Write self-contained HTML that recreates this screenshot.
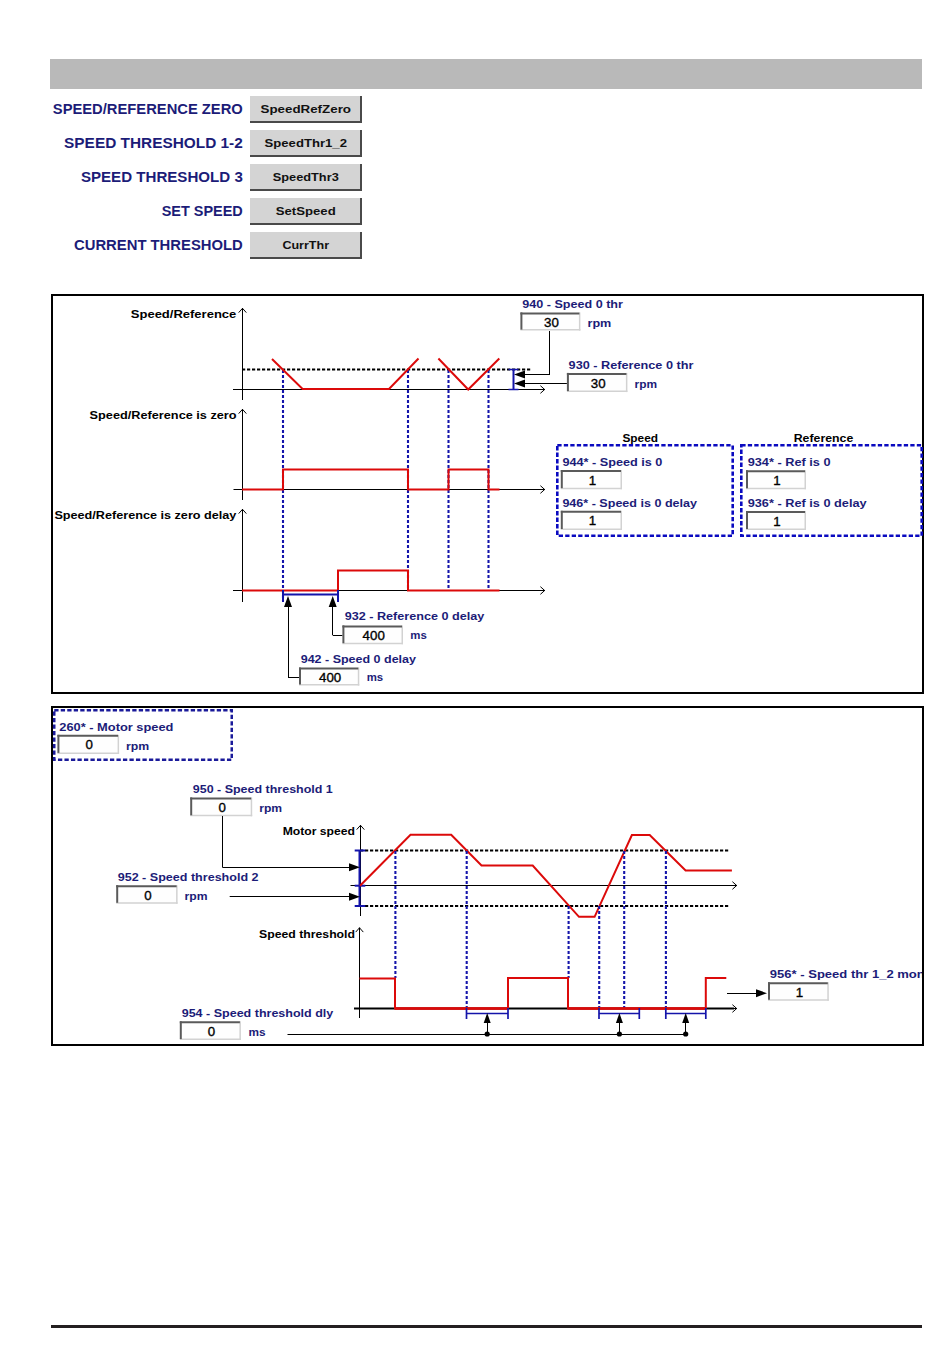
<!DOCTYPE html>
<html><head><meta charset="utf-8">
<style>
html,body{margin:0;padding:0;background:#fff;}
body{width:950px;height:1360px;position:relative;overflow:hidden;font-family:"Liberation Sans",sans-serif;}
.bar{position:absolute;left:50px;top:59px;width:872px;height:30px;background:#b9b9b9;}
.foot{position:absolute;left:51px;top:1325px;width:871px;height:3px;background:#231f20;}
svg{position:absolute;left:0;top:0;}
</style></head><body>
<div class="bar"></div>
<div class="foot"></div>
<svg width="950" height="1360" viewBox="0 0 950 1360">
<text x="242.8" y="113.8" font-family="Liberation Sans" font-size="14" font-weight="bold" fill="#1c1c78" text-anchor="end" textLength="190" lengthAdjust="spacingAndGlyphs">SPEED/REFERENCE ZERO</text>
<rect x="250" y="96" width="112" height="27" fill="#d4d4d4"/>
<line x1="250" y1="122" x2="362" y2="122" stroke="#4a4a4a" stroke-width="2"/>
<line x1="361" y1="96" x2="361" y2="123" stroke="#4a4a4a" stroke-width="2"/>
<text x="305.75" y="112.6" font-family="Liberation Sans" font-size="11" font-weight="bold" fill="#111" text-anchor="middle" textLength="90.5" lengthAdjust="spacingAndGlyphs">SpeedRefZero</text>
<text x="242.8" y="147.8" font-family="Liberation Sans" font-size="14" font-weight="bold" fill="#1c1c78" text-anchor="end" textLength="178.7" lengthAdjust="spacingAndGlyphs">SPEED THRESHOLD 1-2</text>
<rect x="250" y="130" width="112" height="27" fill="#d4d4d4"/>
<line x1="250" y1="156" x2="362" y2="156" stroke="#4a4a4a" stroke-width="2"/>
<line x1="361" y1="130" x2="361" y2="157" stroke="#4a4a4a" stroke-width="2"/>
<text x="305.75" y="146.6" font-family="Liberation Sans" font-size="11" font-weight="bold" fill="#111" text-anchor="middle" textLength="82.4" lengthAdjust="spacingAndGlyphs">SpeedThr1_2</text>
<text x="242.8" y="181.8" font-family="Liberation Sans" font-size="14" font-weight="bold" fill="#1c1c78" text-anchor="end" textLength="161.9" lengthAdjust="spacingAndGlyphs">SPEED THRESHOLD 3</text>
<rect x="250" y="164" width="112" height="27" fill="#d4d4d4"/>
<line x1="250" y1="190" x2="362" y2="190" stroke="#4a4a4a" stroke-width="2"/>
<line x1="361" y1="164" x2="361" y2="191" stroke="#4a4a4a" stroke-width="2"/>
<text x="305.75" y="180.6" font-family="Liberation Sans" font-size="11" font-weight="bold" fill="#111" text-anchor="middle" textLength="66" lengthAdjust="spacingAndGlyphs">SpeedThr3</text>
<text x="242.8" y="215.8" font-family="Liberation Sans" font-size="14" font-weight="bold" fill="#1c1c78" text-anchor="end" textLength="81.1" lengthAdjust="spacingAndGlyphs">SET SPEED</text>
<rect x="250" y="198" width="112" height="27" fill="#d4d4d4"/>
<line x1="250" y1="224" x2="362" y2="224" stroke="#4a4a4a" stroke-width="2"/>
<line x1="361" y1="198" x2="361" y2="225" stroke="#4a4a4a" stroke-width="2"/>
<text x="305.75" y="214.6" font-family="Liberation Sans" font-size="11" font-weight="bold" fill="#111" text-anchor="middle" textLength="60" lengthAdjust="spacingAndGlyphs">SetSpeed</text>
<text x="242.8" y="249.8" font-family="Liberation Sans" font-size="14" font-weight="bold" fill="#1c1c78" text-anchor="end" textLength="168.8" lengthAdjust="spacingAndGlyphs">CURRENT THRESHOLD</text>
<rect x="250" y="232" width="112" height="27" fill="#d4d4d4"/>
<line x1="250" y1="258" x2="362" y2="258" stroke="#4a4a4a" stroke-width="2"/>
<line x1="361" y1="232" x2="361" y2="259" stroke="#4a4a4a" stroke-width="2"/>
<text x="305.75" y="248.6" font-family="Liberation Sans" font-size="11" font-weight="bold" fill="#111" text-anchor="middle" textLength="46.7" lengthAdjust="spacingAndGlyphs">CurrThr</text>
<rect x="52" y="295" width="871" height="398" fill="none" stroke="#000" stroke-width="2"/>
<line x1="242.5" y1="308" x2="242.5" y2="400" stroke="#000" stroke-width="1" stroke-linecap="butt"/>
<polyline points="238.7,312.6 242.5,308.3 246.3,312.6" fill="none" stroke="#000" stroke-width="1"/>
<line x1="233" y1="389.5" x2="545" y2="389.5" stroke="#000" stroke-width="1" stroke-linecap="butt"/>
<polyline points="540.4,385.7 544.7,389.5 540.4,393.3" fill="none" stroke="#000" stroke-width="1"/>
<line x1="242" y1="369.5" x2="532" y2="369.5" stroke="#000" stroke-width="1.8" stroke-dasharray="3.2 1.8" stroke-linecap="butt"/>
<line x1="283" y1="370" x2="283" y2="601" stroke="#1414aa" stroke-width="2.1" stroke-dasharray="3 2" stroke-linecap="butt"/>
<line x1="408" y1="370" x2="408" y2="590" stroke="#1414aa" stroke-width="2.1" stroke-dasharray="3 2" stroke-linecap="butt"/>
<line x1="448.5" y1="370" x2="448.5" y2="590" stroke="#1414aa" stroke-width="2.1" stroke-dasharray="3 2" stroke-linecap="butt"/>
<line x1="488.5" y1="370" x2="488.5" y2="590" stroke="#1414aa" stroke-width="2.1" stroke-dasharray="3 2" stroke-linecap="butt"/>
<polyline points="272,359 302.6,389 389,389 418.5,358.5" fill="none" stroke="#dc0a0a" stroke-width="2" stroke-linejoin="miter"/>
<polyline points="438.4,358.5 468.2,389.5 499.3,358.5" fill="none" stroke="#dc0a0a" stroke-width="2" stroke-linejoin="miter"/>
<line x1="513.5" y1="369" x2="513.5" y2="390" stroke="#1414aa" stroke-width="2" stroke-linecap="butt"/>
<line x1="508.5" y1="369.5" x2="518.5" y2="369.5" stroke="#1414aa" stroke-width="1.5" stroke-linecap="butt"/>
<line x1="508.5" y1="389.5" x2="518.5" y2="389.5" stroke="#1414aa" stroke-width="1.5" stroke-linecap="butt"/>
<polygon points="514,374.5 525,370.5 525,378.5" fill="#000"/>
<polygon points="514,383.5 525,379.5 525,387.5" fill="#000"/>
<line x1="524" y1="374.5" x2="550" y2="374.5" stroke="#000" stroke-width="1" stroke-linecap="butt"/>
<line x1="549.5" y1="331" x2="549.5" y2="375" stroke="#000" stroke-width="1" stroke-linecap="butt"/>
<line x1="524" y1="383.5" x2="568" y2="383.5" stroke="#000" stroke-width="1" stroke-linecap="butt"/>
<text x="522.3" y="308" font-family="Liberation Sans" font-size="10.2" font-weight="bold" fill="#1c1c78" text-anchor="start" textLength="100.6" lengthAdjust="spacingAndGlyphs">940 - Speed 0 thr</text>
<rect x="520.4" y="312.4" width="60.0" height="18.200000000000045" fill="#fefefe"/>
<line x1="520.4" y1="329.85" x2="580.4" y2="329.85" stroke="#d2d2d2" stroke-width="1.5" stroke-linecap="butt"/>
<line x1="579.65" y1="312.4" x2="579.65" y2="330.6" stroke="#d2d2d2" stroke-width="1.5" stroke-linecap="butt"/>
<line x1="520.4" y1="313.4" x2="579.4" y2="313.4" stroke="#5a5a5a" stroke-width="2" stroke-linecap="butt"/>
<line x1="521.4" y1="312.4" x2="521.4" y2="329.6" stroke="#5a5a5a" stroke-width="2" stroke-linecap="butt"/>
<text x="551.4" y="326.588" font-family="Liberation Sans" font-size="13.3" fill="#000" stroke="#000" stroke-width="0.35" text-anchor="middle">30</text>
<text x="587.5" y="326.5" font-family="Liberation Sans" font-size="10.2" font-weight="bold" fill="#1c1c78" text-anchor="start" textLength="23.8" lengthAdjust="spacingAndGlyphs">rpm</text>
<text x="568.6" y="369" font-family="Liberation Sans" font-size="10.2" font-weight="bold" fill="#1c1c78" text-anchor="start" textLength="124.8" lengthAdjust="spacingAndGlyphs">930 - Reference 0 thr</text>
<rect x="566.9" y="372.9" width="60.5" height="19.200000000000045" fill="#fefefe"/>
<line x1="566.9" y1="391.35" x2="627.4" y2="391.35" stroke="#d2d2d2" stroke-width="1.5" stroke-linecap="butt"/>
<line x1="626.65" y1="372.9" x2="626.65" y2="392.1" stroke="#d2d2d2" stroke-width="1.5" stroke-linecap="butt"/>
<line x1="566.9" y1="373.9" x2="626.4" y2="373.9" stroke="#5a5a5a" stroke-width="2" stroke-linecap="butt"/>
<line x1="567.9" y1="372.9" x2="567.9" y2="391.1" stroke="#5a5a5a" stroke-width="2" stroke-linecap="butt"/>
<text x="598.15" y="387.588" font-family="Liberation Sans" font-size="13.3" fill="#000" stroke="#000" stroke-width="0.35" text-anchor="middle">30</text>
<text x="634.5" y="387.5" font-family="Liberation Sans" font-size="10.2" font-weight="bold" fill="#1c1c78" text-anchor="start" textLength="22.5" lengthAdjust="spacingAndGlyphs">rpm</text>
<text x="236.3" y="318" font-family="Liberation Sans" font-size="10.2" font-weight="bold" fill="#000" text-anchor="end" textLength="105.5" lengthAdjust="spacingAndGlyphs">Speed/Reference</text>
<line x1="242.5" y1="409" x2="242.5" y2="500" stroke="#000" stroke-width="1" stroke-linecap="butt"/>
<polyline points="238.7,413.6 242.5,409.3 246.3,413.6" fill="none" stroke="#000" stroke-width="1"/>
<line x1="233.5" y1="489.5" x2="545" y2="489.5" stroke="#000" stroke-width="1" stroke-linecap="butt"/>
<polyline points="540.4,485.7 544.7,489.5 540.4,493.3" fill="none" stroke="#000" stroke-width="1"/>
<polyline points="242,489.5 283,489.5 283,469.5 408,469.5 408,489.5 448.5,489.5 448.5,469.5 488.5,469.5 488.5,489.5 499.5,489.5" fill="none" stroke="#dc0a0a" stroke-width="2" stroke-linejoin="miter"/>
<text x="236.6" y="419" font-family="Liberation Sans" font-size="10.2" font-weight="bold" fill="#000" text-anchor="end" textLength="147" lengthAdjust="spacingAndGlyphs">Speed/Reference is zero</text>
<line x1="242.5" y1="509" x2="242.5" y2="602" stroke="#000" stroke-width="1" stroke-linecap="butt"/>
<polyline points="238.7,513.6 242.5,509.3 246.3,513.6" fill="none" stroke="#000" stroke-width="1"/>
<line x1="233" y1="590.5" x2="545" y2="590.5" stroke="#000" stroke-width="1" stroke-linecap="butt"/>
<polyline points="540.4,586.7 544.7,590.5 540.4,594.3" fill="none" stroke="#000" stroke-width="1"/>
<polyline points="242,590.5 338,590.5 338,570.5 408,570.5 408,590.5 499.5,590.5" fill="none" stroke="#dc0a0a" stroke-width="2" stroke-linejoin="miter"/>
<text x="236.4" y="519" font-family="Liberation Sans" font-size="10.2" font-weight="bold" fill="#000" text-anchor="end" textLength="182" lengthAdjust="spacingAndGlyphs">Speed/Reference is zero delay</text>
<line x1="282.5" y1="594.5" x2="338" y2="594.5" stroke="#1414aa" stroke-width="2" stroke-linecap="butt"/>
<line x1="283" y1="590" x2="283" y2="602" stroke="#1414aa" stroke-width="2" stroke-linecap="butt"/>
<line x1="338" y1="590" x2="338" y2="602" stroke="#1414aa" stroke-width="2" stroke-linecap="butt"/>
<polygon points="288,596 284,607 292,607" fill="#000"/>
<polygon points="332.7,596 328.7,607 336.7,607" fill="#000"/>
<line x1="288.5" y1="606" x2="288.5" y2="677.5" stroke="#000" stroke-width="1" stroke-linecap="butt"/>
<line x1="288" y1="677.5" x2="300" y2="677.5" stroke="#000" stroke-width="1" stroke-linecap="butt"/>
<line x1="332.5" y1="606" x2="332.5" y2="635" stroke="#000" stroke-width="1" stroke-linecap="butt"/>
<line x1="332.7" y1="635.5" x2="343" y2="635.5" stroke="#000" stroke-width="1" stroke-linecap="butt"/>
<text x="344.7" y="620.4" font-family="Liberation Sans" font-size="10.2" font-weight="bold" fill="#1c1c78" text-anchor="start" textLength="139.7" lengthAdjust="spacingAndGlyphs">932 - Reference 0 delay</text>
<rect x="342.4" y="625.4" width="60.60000000000002" height="18.800000000000068" fill="#fefefe"/>
<line x1="342.4" y1="643.45" x2="403.0" y2="643.45" stroke="#d2d2d2" stroke-width="1.5" stroke-linecap="butt"/>
<line x1="402.25" y1="625.4" x2="402.25" y2="644.2" stroke="#d2d2d2" stroke-width="1.5" stroke-linecap="butt"/>
<line x1="342.4" y1="626.4" x2="402.0" y2="626.4" stroke="#5a5a5a" stroke-width="2" stroke-linecap="butt"/>
<line x1="343.4" y1="625.4" x2="343.4" y2="643.2" stroke="#5a5a5a" stroke-width="2" stroke-linecap="butt"/>
<text x="373.7" y="639.8879999999999" font-family="Liberation Sans" font-size="13.3" fill="#000" stroke="#000" stroke-width="0.35" text-anchor="middle">400</text>
<text x="410.3" y="639" font-family="Liberation Sans" font-size="10.2" font-weight="bold" fill="#1c1c78" text-anchor="start" textLength="16.5" lengthAdjust="spacingAndGlyphs">ms</text>
<text x="300.7" y="662.8" font-family="Liberation Sans" font-size="10.2" font-weight="bold" fill="#1c1c78" text-anchor="start" textLength="115.3" lengthAdjust="spacingAndGlyphs">942 - Speed 0 delay</text>
<rect x="299.0" y="667.4" width="60.299999999999955" height="18.200000000000045" fill="#fefefe"/>
<line x1="299.0" y1="684.85" x2="359.29999999999995" y2="684.85" stroke="#d2d2d2" stroke-width="1.5" stroke-linecap="butt"/>
<line x1="358.54999999999995" y1="667.4" x2="358.54999999999995" y2="685.6" stroke="#d2d2d2" stroke-width="1.5" stroke-linecap="butt"/>
<line x1="299.0" y1="668.4" x2="358.29999999999995" y2="668.4" stroke="#5a5a5a" stroke-width="2" stroke-linecap="butt"/>
<line x1="300.0" y1="667.4" x2="300.0" y2="684.6" stroke="#5a5a5a" stroke-width="2" stroke-linecap="butt"/>
<text x="330.15" y="681.588" font-family="Liberation Sans" font-size="13.3" fill="#000" stroke="#000" stroke-width="0.35" text-anchor="middle">400</text>
<text x="366.7" y="681" font-family="Liberation Sans" font-size="10.2" font-weight="bold" fill="#1c1c78" text-anchor="start" textLength="16.5" lengthAdjust="spacingAndGlyphs">ms</text>
<text x="640.2" y="442" font-family="Liberation Sans" font-size="10.2" font-weight="bold" fill="#000" text-anchor="middle" textLength="35.6" lengthAdjust="spacingAndGlyphs">Speed</text>
<text x="823.5" y="442" font-family="Liberation Sans" font-size="10.2" font-weight="bold" fill="#000" text-anchor="middle" textLength="59.6" lengthAdjust="spacingAndGlyphs">Reference</text>
<rect x="557.3" y="445.3" width="175.4" height="90.4" fill="none" stroke="#0a0ac0" stroke-width="2.6" stroke-dasharray="4.3 2.2"/>
<rect x="741.3" y="445.3" width="180.4" height="90.4" fill="none" stroke="#0a0ac0" stroke-width="2.6" stroke-dasharray="4.3 2.2"/>
<text x="562.4" y="466" font-family="Liberation Sans" font-size="10.2" font-weight="bold" fill="#1c1c78" text-anchor="start" textLength="100" lengthAdjust="spacingAndGlyphs">944* - Speed is 0</text>
<rect x="560.8" y="470.0" width="61.200000000000045" height="19.200000000000045" fill="#fefefe"/>
<line x1="560.8" y1="488.45000000000005" x2="622.0" y2="488.45000000000005" stroke="#d2d2d2" stroke-width="1.5" stroke-linecap="butt"/>
<line x1="621.25" y1="470.0" x2="621.25" y2="489.20000000000005" stroke="#d2d2d2" stroke-width="1.5" stroke-linecap="butt"/>
<line x1="560.8" y1="471.0" x2="621.0" y2="471.0" stroke="#5a5a5a" stroke-width="2" stroke-linecap="butt"/>
<line x1="561.8" y1="470.0" x2="561.8" y2="488.20000000000005" stroke="#5a5a5a" stroke-width="2" stroke-linecap="butt"/>
<text x="592.4" y="484.68800000000005" font-family="Liberation Sans" font-size="13.3" fill="#000" stroke="#000" stroke-width="0.35" text-anchor="middle">1</text>
<text x="562.4" y="507" font-family="Liberation Sans" font-size="10.2" font-weight="bold" fill="#1c1c78" text-anchor="start" textLength="134.6" lengthAdjust="spacingAndGlyphs">946* - Speed is 0 delay</text>
<rect x="560.8" y="510.79999999999995" width="61.200000000000045" height="19.200000000000045" fill="#fefefe"/>
<line x1="560.8" y1="529.25" x2="622.0" y2="529.25" stroke="#d2d2d2" stroke-width="1.5" stroke-linecap="butt"/>
<line x1="621.25" y1="510.79999999999995" x2="621.25" y2="530.0" stroke="#d2d2d2" stroke-width="1.5" stroke-linecap="butt"/>
<line x1="560.8" y1="511.79999999999995" x2="621.0" y2="511.79999999999995" stroke="#5a5a5a" stroke-width="2" stroke-linecap="butt"/>
<line x1="561.8" y1="510.79999999999995" x2="561.8" y2="529.0" stroke="#5a5a5a" stroke-width="2" stroke-linecap="butt"/>
<text x="592.4" y="525.4879999999999" font-family="Liberation Sans" font-size="13.3" fill="#000" stroke="#000" stroke-width="0.35" text-anchor="middle">1</text>
<text x="747.7" y="466" font-family="Liberation Sans" font-size="10.2" font-weight="bold" fill="#1c1c78" text-anchor="start" textLength="82.9" lengthAdjust="spacingAndGlyphs">934* - Ref is 0</text>
<rect x="746.0" y="470.2" width="60.0" height="19.100000000000023" fill="#fefefe"/>
<line x1="746.0" y1="488.55" x2="806.0" y2="488.55" stroke="#d2d2d2" stroke-width="1.5" stroke-linecap="butt"/>
<line x1="805.25" y1="470.2" x2="805.25" y2="489.3" stroke="#d2d2d2" stroke-width="1.5" stroke-linecap="butt"/>
<line x1="746.0" y1="471.2" x2="805.0" y2="471.2" stroke="#5a5a5a" stroke-width="2" stroke-linecap="butt"/>
<line x1="747.0" y1="470.2" x2="747.0" y2="488.3" stroke="#5a5a5a" stroke-width="2" stroke-linecap="butt"/>
<text x="777.0" y="484.838" font-family="Liberation Sans" font-size="13.3" fill="#000" stroke="#000" stroke-width="0.35" text-anchor="middle">1</text>
<text x="747.7" y="507" font-family="Liberation Sans" font-size="10.2" font-weight="bold" fill="#1c1c78" text-anchor="start" textLength="118.9" lengthAdjust="spacingAndGlyphs">936* - Ref is 0 delay</text>
<rect x="746.0" y="510.9" width="60.0" height="19.200000000000045" fill="#fefefe"/>
<line x1="746.0" y1="529.35" x2="806.0" y2="529.35" stroke="#d2d2d2" stroke-width="1.5" stroke-linecap="butt"/>
<line x1="805.25" y1="510.9" x2="805.25" y2="530.1" stroke="#d2d2d2" stroke-width="1.5" stroke-linecap="butt"/>
<line x1="746.0" y1="511.9" x2="805.0" y2="511.9" stroke="#5a5a5a" stroke-width="2" stroke-linecap="butt"/>
<line x1="747.0" y1="510.9" x2="747.0" y2="529.1" stroke="#5a5a5a" stroke-width="2" stroke-linecap="butt"/>
<text x="777.0" y="525.588" font-family="Liberation Sans" font-size="13.3" fill="#000" stroke="#000" stroke-width="0.35" text-anchor="middle">1</text>
<rect x="52" y="707" width="871" height="338" fill="none" stroke="#000" stroke-width="2"/>
<rect x="54.25" y="710.25" width="177.5" height="49.5" fill="none" stroke="#1a1a9a" stroke-width="2.5" stroke-dasharray="4.3 2.2"/>
<text x="59.3" y="731.2" font-family="Liberation Sans" font-size="10.2" font-weight="bold" fill="#1c1c78" text-anchor="start" textLength="114.1" lengthAdjust="spacingAndGlyphs">260* - Motor speed</text>
<rect x="57.4" y="734.8" width="61.70000000000001" height="19.100000000000023" fill="#fefefe"/>
<line x1="57.4" y1="753.15" x2="119.10000000000001" y2="753.15" stroke="#d2d2d2" stroke-width="1.5" stroke-linecap="butt"/>
<line x1="118.35000000000001" y1="734.8" x2="118.35000000000001" y2="753.9" stroke="#d2d2d2" stroke-width="1.5" stroke-linecap="butt"/>
<line x1="57.4" y1="735.8" x2="118.10000000000001" y2="735.8" stroke="#5a5a5a" stroke-width="2" stroke-linecap="butt"/>
<line x1="58.4" y1="734.8" x2="58.4" y2="752.9" stroke="#5a5a5a" stroke-width="2" stroke-linecap="butt"/>
<text x="89.25" y="749.4379999999999" font-family="Liberation Sans" font-size="13.3" fill="#000" stroke="#000" stroke-width="0.35" text-anchor="middle">0</text>
<text x="126" y="749.5" font-family="Liberation Sans" font-size="10.2" font-weight="bold" fill="#1c1c78" text-anchor="start" textLength="23.2" lengthAdjust="spacingAndGlyphs">rpm</text>
<text x="192.8" y="793" font-family="Liberation Sans" font-size="10.2" font-weight="bold" fill="#1c1c78" text-anchor="start" textLength="140" lengthAdjust="spacingAndGlyphs">950 - Speed threshold 1</text>
<rect x="190.20000000000002" y="797.4" width="62.0" height="18.90000000000009" fill="#fefefe"/>
<line x1="190.20000000000002" y1="815.5500000000001" x2="252.20000000000002" y2="815.5500000000001" stroke="#d2d2d2" stroke-width="1.5" stroke-linecap="butt"/>
<line x1="251.45000000000002" y1="797.4" x2="251.45000000000002" y2="816.3000000000001" stroke="#d2d2d2" stroke-width="1.5" stroke-linecap="butt"/>
<line x1="190.20000000000002" y1="798.4" x2="251.20000000000002" y2="798.4" stroke="#5a5a5a" stroke-width="2" stroke-linecap="butt"/>
<line x1="191.20000000000002" y1="797.4" x2="191.20000000000002" y2="815.3000000000001" stroke="#5a5a5a" stroke-width="2" stroke-linecap="butt"/>
<text x="222.20000000000002" y="811.938" font-family="Liberation Sans" font-size="13.3" fill="#000" stroke="#000" stroke-width="0.35" text-anchor="middle">0</text>
<text x="259.2" y="811.5" font-family="Liberation Sans" font-size="10.2" font-weight="bold" fill="#1c1c78" text-anchor="start" textLength="22.9" lengthAdjust="spacingAndGlyphs">rpm</text>
<text x="117.7" y="881.4" font-family="Liberation Sans" font-size="10.2" font-weight="bold" fill="#1c1c78" text-anchor="start" textLength="140.9" lengthAdjust="spacingAndGlyphs">952 - Speed threshold 2</text>
<rect x="116.2" y="885.1999999999999" width="61.39999999999999" height="18.600000000000136" fill="#fefefe"/>
<line x1="116.2" y1="903.0500000000001" x2="177.6" y2="903.0500000000001" stroke="#d2d2d2" stroke-width="1.5" stroke-linecap="butt"/>
<line x1="176.85" y1="885.1999999999999" x2="176.85" y2="903.8000000000001" stroke="#d2d2d2" stroke-width="1.5" stroke-linecap="butt"/>
<line x1="116.2" y1="886.1999999999999" x2="176.6" y2="886.1999999999999" stroke="#5a5a5a" stroke-width="2" stroke-linecap="butt"/>
<line x1="117.2" y1="885.1999999999999" x2="117.2" y2="902.8000000000001" stroke="#5a5a5a" stroke-width="2" stroke-linecap="butt"/>
<text x="147.9" y="899.588" font-family="Liberation Sans" font-size="13.3" fill="#000" stroke="#000" stroke-width="0.35" text-anchor="middle">0</text>
<text x="184.6" y="899.5" font-family="Liberation Sans" font-size="10.2" font-weight="bold" fill="#1c1c78" text-anchor="start" textLength="23" lengthAdjust="spacingAndGlyphs">rpm</text>
<text x="355" y="834.8" font-family="Liberation Sans" font-size="10.2" font-weight="bold" fill="#000" text-anchor="end" textLength="72.3" lengthAdjust="spacingAndGlyphs">Motor speed</text>
<text x="355" y="938.2" font-family="Liberation Sans" font-size="10.2" font-weight="bold" fill="#000" text-anchor="end" textLength="96" lengthAdjust="spacingAndGlyphs">Speed threshold</text>
<line x1="360.5" y1="825" x2="360.5" y2="916" stroke="#000" stroke-width="1" stroke-linecap="butt"/>
<polyline points="356.7,829.6 360.5,825.3 364.3,829.6" fill="none" stroke="#000" stroke-width="1"/>
<line x1="350.5" y1="885.5" x2="737" y2="885.5" stroke="#000" stroke-width="1" stroke-linecap="butt"/>
<polyline points="732.4,881.7 736.7,885.5 732.4,889.3" fill="none" stroke="#000" stroke-width="1"/>
<line x1="360" y1="850.5" x2="730" y2="850.5" stroke="#000" stroke-width="1.8" stroke-dasharray="3.2 1.8" stroke-linecap="butt"/>
<line x1="360" y1="906" x2="730" y2="906" stroke="#000" stroke-width="1.8" stroke-dasharray="3.2 1.8" stroke-linecap="butt"/>
<line x1="359.5" y1="850" x2="359.5" y2="906.5" stroke="#1414aa" stroke-width="2" stroke-linecap="butt"/>
<line x1="354.7" y1="850.5" x2="365.3" y2="850.5" stroke="#1414aa" stroke-width="2" stroke-linecap="butt"/>
<line x1="354.7" y1="885.7" x2="365.3" y2="885.7" stroke="#1414aa" stroke-width="2" stroke-linecap="butt"/>
<line x1="354.7" y1="906" x2="365.3" y2="906" stroke="#1414aa" stroke-width="2" stroke-linecap="butt"/>
<line x1="222.5" y1="816" x2="222.5" y2="867" stroke="#000" stroke-width="1" stroke-linecap="butt"/>
<line x1="222.3" y1="867.5" x2="350" y2="867.5" stroke="#000" stroke-width="1" stroke-linecap="butt"/>
<polygon points="360,867.2 349,863.2 349,871.2" fill="#000"/>
<line x1="229.7" y1="896.5" x2="350" y2="896.5" stroke="#000" stroke-width="1" stroke-linecap="butt"/>
<polygon points="360,896.8 349,892.8 349,900.8" fill="#000"/>
<polyline points="360,885.7 410.5,834.7 451.2,834.7 481.5,865.5 532.7,865.5 579,916.8 594.6,916.8 631.9,835 649.7,835 685.6,870.5 731.9,870.5" fill="none" stroke="#dc0a0a" stroke-width="2" stroke-linejoin="miter"/>
<line x1="395.4" y1="851" x2="395.4" y2="978" stroke="#1414aa" stroke-width="2.1" stroke-dasharray="3 2" stroke-linecap="butt"/>
<line x1="466.7" y1="851" x2="466.7" y2="1008" stroke="#1414aa" stroke-width="2.1" stroke-dasharray="3 2" stroke-linecap="butt"/>
<line x1="568.6" y1="906" x2="568.6" y2="978" stroke="#1414aa" stroke-width="2.1" stroke-dasharray="3 2" stroke-linecap="butt"/>
<line x1="599.2" y1="906" x2="599.2" y2="1008" stroke="#1414aa" stroke-width="2.1" stroke-dasharray="3 2" stroke-linecap="butt"/>
<line x1="624.2" y1="851" x2="624.2" y2="1008" stroke="#1414aa" stroke-width="2.1" stroke-dasharray="3 2" stroke-linecap="butt"/>
<line x1="665.9" y1="851" x2="665.9" y2="1008" stroke="#1414aa" stroke-width="2.1" stroke-dasharray="3 2" stroke-linecap="butt"/>
<line x1="359.5" y1="927.5" x2="359.5" y2="1018" stroke="#000" stroke-width="1" stroke-linecap="butt"/>
<polyline points="355.7,932.1 359.5,927.8 363.3,932.1" fill="none" stroke="#000" stroke-width="1"/>
<line x1="354" y1="1008.5" x2="737" y2="1008.5" stroke="#000" stroke-width="1" stroke-linecap="butt"/>
<polyline points="732.4,1004.7 736.7,1008.5 732.4,1012.3" fill="none" stroke="#000" stroke-width="1"/>
<line x1="354" y1="1008.5" x2="734" y2="1008.5" stroke="#000" stroke-width="2" stroke-linecap="butt"/>
<polyline points="359.5,978.5 395,978.5 395,1008.5 508,1008.5 508,978 568,978 568,1008.5 705.8,1008.5 705.8,978 726.3,978" fill="none" stroke="#dc0a0a" stroke-width="2" stroke-linejoin="miter"/>
<line x1="395" y1="1008.5" x2="508" y2="1008.5" stroke="#dc0a0a" stroke-width="2.5" stroke-linecap="butt"/>
<line x1="568" y1="1008.5" x2="705.8" y2="1008.5" stroke="#dc0a0a" stroke-width="2.5" stroke-linecap="butt"/>
<line x1="466.5" y1="1013.5" x2="508" y2="1013.5" stroke="#1414aa" stroke-width="1.7" stroke-linecap="butt"/>
<line x1="466.5" y1="1008" x2="466.5" y2="1019" stroke="#1414aa" stroke-width="1.7" stroke-linecap="butt"/>
<line x1="508" y1="1008" x2="508" y2="1019" stroke="#1414aa" stroke-width="1.7" stroke-linecap="butt"/>
<line x1="599" y1="1013.5" x2="639.3" y2="1013.5" stroke="#1414aa" stroke-width="1.7" stroke-linecap="butt"/>
<line x1="599" y1="1008" x2="599" y2="1019" stroke="#1414aa" stroke-width="1.7" stroke-linecap="butt"/>
<line x1="639.3" y1="1008" x2="639.3" y2="1019" stroke="#1414aa" stroke-width="1.7" stroke-linecap="butt"/>
<line x1="665.8" y1="1013.5" x2="705.8" y2="1013.5" stroke="#1414aa" stroke-width="1.7" stroke-linecap="butt"/>
<line x1="665.8" y1="1008" x2="665.8" y2="1019" stroke="#1414aa" stroke-width="1.7" stroke-linecap="butt"/>
<line x1="705.8" y1="1008" x2="705.8" y2="1019" stroke="#1414aa" stroke-width="1.7" stroke-linecap="butt"/>
<polygon points="487.2,1013 483.7,1023 490.7,1023" fill="#000"/>
<line x1="487.5" y1="1022" x2="487.5" y2="1034" stroke="#000" stroke-width="1" stroke-linecap="butt"/>
<circle cx="487.2" cy="1034" r="2.6" fill="#000"/>
<polygon points="619.4,1013 615.9,1023 622.9,1023" fill="#000"/>
<line x1="619.5" y1="1022" x2="619.5" y2="1034" stroke="#000" stroke-width="1" stroke-linecap="butt"/>
<circle cx="619.4" cy="1034" r="2.6" fill="#000"/>
<polygon points="685.7,1013 682.2,1023 689.2,1023" fill="#000"/>
<line x1="685.5" y1="1022" x2="685.5" y2="1034" stroke="#000" stroke-width="1" stroke-linecap="butt"/>
<circle cx="685.7" cy="1034" r="2.6" fill="#000"/>
<line x1="287.5" y1="1034.5" x2="685.7" y2="1034.5" stroke="#000" stroke-width="1" stroke-linecap="butt"/>
<text x="181.7" y="1016.8" font-family="Liberation Sans" font-size="10.2" font-weight="bold" fill="#1c1c78" text-anchor="start" textLength="151.6" lengthAdjust="spacingAndGlyphs">954 - Speed threshold dly</text>
<rect x="179.8" y="1021.3" width="61.099999999999994" height="18.799999999999955" fill="#fefefe"/>
<line x1="179.8" y1="1039.35" x2="240.9" y2="1039.35" stroke="#d2d2d2" stroke-width="1.5" stroke-linecap="butt"/>
<line x1="240.15" y1="1021.3" x2="240.15" y2="1040.1" stroke="#d2d2d2" stroke-width="1.5" stroke-linecap="butt"/>
<line x1="179.8" y1="1022.3" x2="239.9" y2="1022.3" stroke="#5a5a5a" stroke-width="2" stroke-linecap="butt"/>
<line x1="180.8" y1="1021.3" x2="180.8" y2="1039.1" stroke="#5a5a5a" stroke-width="2" stroke-linecap="butt"/>
<text x="211.35000000000002" y="1035.7879999999998" font-family="Liberation Sans" font-size="13.3" fill="#000" stroke="#000" stroke-width="0.35" text-anchor="middle">0</text>
<text x="248.6" y="1035.5" font-family="Liberation Sans" font-size="10.2" font-weight="bold" fill="#1c1c78" text-anchor="start" textLength="17.1" lengthAdjust="spacingAndGlyphs">ms</text>
<line x1="727" y1="993.5" x2="757" y2="993.5" stroke="#000" stroke-width="1" stroke-linecap="butt"/>
<polygon points="767,993.2 756,989.2 756,997.2" fill="#000"/>
<rect x="768.0" y="982.1999999999999" width="60.799999999999955" height="18.600000000000136" fill="#fefefe"/>
<line x1="768.0" y1="1000.0500000000001" x2="828.8" y2="1000.0500000000001" stroke="#d2d2d2" stroke-width="1.5" stroke-linecap="butt"/>
<line x1="828.05" y1="982.1999999999999" x2="828.05" y2="1000.8000000000001" stroke="#d2d2d2" stroke-width="1.5" stroke-linecap="butt"/>
<line x1="768.0" y1="983.1999999999999" x2="827.8" y2="983.1999999999999" stroke="#5a5a5a" stroke-width="2" stroke-linecap="butt"/>
<line x1="769.0" y1="982.1999999999999" x2="769.0" y2="999.8000000000001" stroke="#5a5a5a" stroke-width="2" stroke-linecap="butt"/>
<text x="799.4" y="996.588" font-family="Liberation Sans" font-size="13.3" fill="#000" stroke="#000" stroke-width="0.35" text-anchor="middle">1</text>
<clipPath id="c2"><rect x="53" y="900" width="869" height="140"/></clipPath>
<g clip-path="url(#c2)">
<text x="769.8" y="978.2" font-family="Liberation Sans" font-size="10.2" font-weight="bold" fill="#1c1c78" text-anchor="start" textLength="155" lengthAdjust="spacingAndGlyphs">956* - Speed thr 1_2 mon</text>
</g>
</svg>
</body></html>
